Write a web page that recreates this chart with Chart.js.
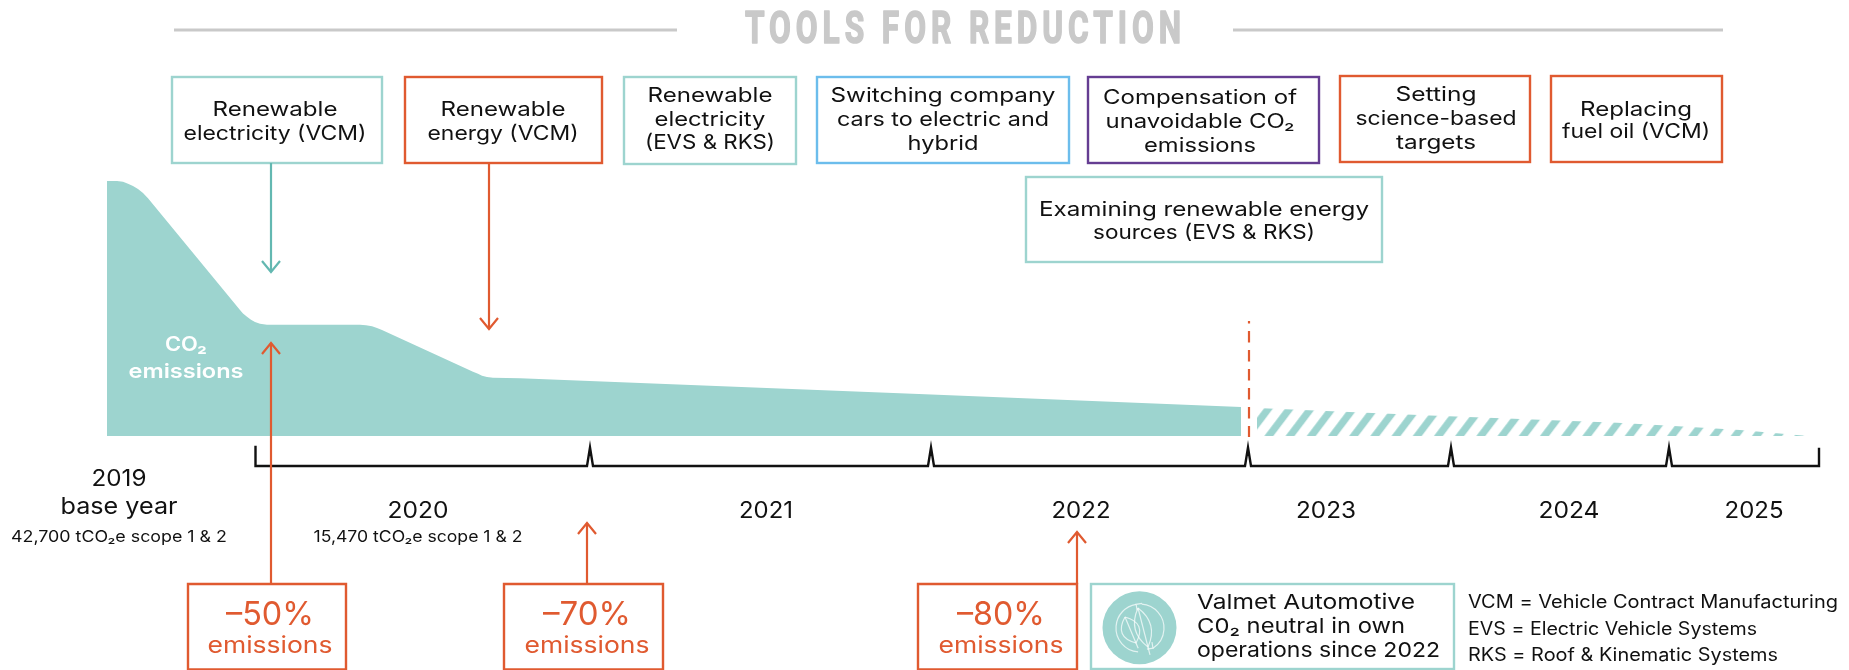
<!DOCTYPE html>
<html><head><meta charset="utf-8">
<style>html,body{margin:0;padding:0;background:#fff}canvas{display:block}</style>
<script src="https://cdn.jsdelivr.net/npm/chart.js@4"></script>
</head><body><canvas id="c" width="1849" height="670"></canvas>
<script>
// ---- data ----
const baseYearEmissions = 42700;
const actualX = [107,117,123,128,133,138,143,148,240,243,247,251,255,260,267,300,340,360,366,372,377,382,473,478,482,487,493,520,925,1241];
const actualY = [42700,42700,42570,42250,41860,41360,40690,39800,21100,20510,19980,19460,19090,18800,18640,18640,18640,18640,18550,18370,18080,17750,10770,10420,10100,9880,9760,9660,6980,4860];
const plannedX = [1257,1430,1617,1670,1740,1808];
const plannedY = [4690,3430,2230,1720,1000,0];
const yearBoundaries = [255.5,590,931,1248,1451,1669,1819];
const yearLabels = ['2020','2021','2022','2023','2024','2025'];
const toolBoxes = [
 ['Renewable','electricity (VCM)'],['Renewable','energy (VCM)'],['Renewable','electricity','(EVS & RKS)'],
 ['Switching company','cars to electric and','hybrid'],['Compensation of','unavoidable CO₂','emissions'],
 ['Setting','science-based','targets'],['Replacing','fuel oil (VCM)'],['Examining renewable energy','sources (EVS & RKS)']];
const targetLabels = ['–50%','–70%','–80%'];
const legendLines = ['VCM = Vehicle Contract Manufacturing','EVS = Electric Vehicle Systems','RKS = Roof & Kinematic Systems'];
const neutralLines = ['Valmet Automotive','C0₂ neutral in own','operations since 2022'];

// ---- layout and style (picture units) ----
const TEAL='#9DD4CF',ORANGE='#E05A30',BLUE='#6CBDEC',PURPLE='#653D92',GREY='#C9C9C9',ARROWTEAL='#63B8B1',INK='#111';
const boxLayout=[
 {r:[172,77,382,163],c:TEAL,cx:275,ys:[110,134],ws:[125,183]},
 {r:[405,77,602,163],c:ORANGE,cx:503,ys:[110,134],ws:[125,151]},
 {r:[624,77,796,164],c:TEAL,cx:710,ys:[96,120,143],ws:[125,111,130]},
 {r:[817,77,1069,163],c:BLUE,cx:943,ys:[96,120,144],ws:[225,212,71]},
 {r:[1088,77,1319,163],c:PURPLE,cx:1200,ys:[98,122,146],ws:[194,189,112]},
 {r:[1340,76,1530,162],c:ORANGE,cx:1436,ys:[95,119,143],ws:[81,161,80]},
 {r:[1551,76,1722,162],c:ORANGE,cx:1636,ys:[110,132],ws:[112,148]},
 {r:[1026,177,1382,262],c:TEAL,cx:1204,ys:[210,233],ws:[330,222]}];
const yearLayout=[[418,61],[766,54],[1081,59],[1326,60],[1569,61],[1754,59]];
const targetLayout=[{r:[188,584,346,670],cx:270,ax:271,tip:343},{r:[504,584,663,670],cx:587,ax:587,tip:523},{r:[918,584,1077,670],cx:1001,ax:1077,tip:532}];
const FONT='Inter, "Noto Sans", sans-serif';
const BASE_PX=436, TOP_PX=181, H=670;
const perPx=baseYearEmissions/(BASE_PX-TOP_PX);

// stripes for the planned period
function stripes(){
  const W=106,T=28,per=21.2,sw=9,t=document.createElement('canvas');t.width=W;t.height=T;
  const g=t.getContext('2d');g.fillStyle=TEAL;
  for(let i=-2;i<7;i++){const b=i*per;g.beginPath();g.moveTo(b,T);g.lineTo(b+sw,T);g.lineTo(b+sw+per,0);g.lineTo(b+per,0);g.closePath();g.fill();}
  const p=g.createPattern(t,'repeat');
  p.setTransform(new DOMMatrix().translate(1264.3,408));
  return p;
}
const zip=(xs,ys)=>xs.map((x,i)=>({x,y:ys[i]}));
const bracket=[];
yearBoundaries.forEach((x,i)=>{
  if(i===0){bracket.push({x,y:447},{x,y:466});}
  else if(i===yearBoundaries.length-1){bracket.push({x,y:466},{x,y:449});}
  else{bracket.push({x:x-3,y:466},{x,y:447.5},{x:x+3,y:466});}
});

const annotations={id:'annotations',afterDatasetsDraw(chart){
  const {ctx,scales}=chart,X=v=>scales.x.getPixelForValue(v),Y=v=>scales.yPage.getPixelForValue(v);
  const text=(s,cx,cy,w,font,color=INK,align='center')=>{
    ctx.save();ctx.font=font;ctx.fillStyle=color;ctx.textBaseline='middle';ctx.textAlign=align;
    const m=ctx.measureText(s).width;
    ctx.translate(X(cx),Y(cy));ctx.scale(w/m,1);ctx.fillText(s,0,0);
    ctx.restore();};
  const line=(x0,y0,x1,y1,c,w=2.2)=>{ctx.beginPath();ctx.moveTo(X(x0),Y(y0));ctx.lineTo(X(x1),Y(y1));ctx.strokeStyle=c;ctx.lineWidth=w;ctx.stroke();};
  const arrow=(x,y0,y1,c)=>{const d=y1>y0?-1:1;line(x,y0,x,y1,c);
    ctx.beginPath();ctx.moveTo(X(x-9),Y(y1+d*11));ctx.lineTo(X(x),Y(y1));ctx.lineTo(X(x+9),Y(y1+d*11));ctx.strokeStyle=c;ctx.lineWidth=2.2;ctx.stroke();};
  const box=(r,c,w=2.4)=>{ctx.strokeStyle=c;ctx.lineWidth=w;ctx.strokeRect(X(r[0]),Y(r[1]),r[2]-r[0],r[3]-r[1]);};

  // title
  line(174,30,677,30,GREY,3);line(1233,30,1723,30,GREY,3);
  ctx.save();ctx.font='bold 45px "Liberation Sans Narrow", Roboto, sans-serif';ctx.letterSpacing='7px';
  const tw=ctx.measureText('TOOLS FOR REDUCTION').width;ctx.fillStyle=GREY;ctx.strokeStyle=GREY;ctx.lineWidth=1.6;ctx.lineJoin='round';ctx.textBaseline='middle';ctx.textAlign='left';
  ctx.translate(X(745),Y(32));ctx.scale(441/tw,1);ctx.fillText('TOOLS FOR REDUCTION',0,0);ctx.strokeText('TOOLS FOR REDUCTION',0,0);ctx.restore();

  // tool boxes
  const f20='400 20px '+FONT;
  boxLayout.forEach((b,i)=>{box(b.r,b.c);toolBoxes[i].forEach((s,j)=>text(s,b.cx,b.ys[j],b.ws[j],f20));});

  // arrows from the boxes
  arrow(271,163,272,ARROWTEAL);arrow(489,163,329,ORANGE);

  // dashed divider
  line(1249,321,1249,323.5,ORANGE);
  ctx.save();ctx.setLineDash([11.5,7.5]);line(1249,331,1249,437,ORANGE);ctx.restore();

  // area label
  const f600='600 20px '+FONT;
  text('CO₂',186,345,42,f600,'#fff');text('emissions',186,372,115,f600,'#fff');

  // years
  text('2019',119,479,55,'400 23px '+FONT);
  text('base year',119,507,117,'400 23px '+FONT);
  text('42,700 tCO₂e scope 1 & 2',119,537,216,'400 16px '+FONT);
  yearLabels.forEach((s,i)=>text(s,yearLayout[i][0],511,yearLayout[i][1],'400 23px '+FONT));
  text('15,470 tCO₂e scope 1 & 2',418,537,209,'400 16px '+FONT);

  // reduction targets
  targetLayout.forEach((b,i)=>{
    ctx.strokeStyle=ORANGE;ctx.lineWidth=2.4;ctx.beginPath();
    ctx.moveTo(X(b.r[0]),Y(671));ctx.lineTo(X(b.r[0]),Y(b.r[1]));ctx.lineTo(X(b.r[2]),Y(b.r[1]));ctx.lineTo(X(b.r[2]),Y(671));ctx.stroke();
    ctx.beginPath();ctx.moveTo(X(b.r[0]),Y(669.5));ctx.lineTo(X(b.r[2]),Y(669.5));ctx.stroke();
    arrow(b.ax,b.r[1],b.tip,ORANGE);
    text(targetLabels[i],b.cx,615,88,'400 33px '+FONT,ORANGE);
    text('emissions',b.cx,646,125,'400 23px '+FONT,ORANGE);
  });

  // neutral box
  ctx.strokeStyle=TEAL;ctx.lineWidth=2.4;ctx.strokeRect(X(1091),Y(584),363,85);
  ctx.fillStyle=TEAL;ctx.beginPath();ctx.ellipse(X(1139.5),Y(627.7),37,36.5,0,0,Math.PI*2);ctx.fill();
  ctx.strokeStyle='rgba(255,255,255,.7)';ctx.lineWidth=1.2;
  const cx=X(1140),cy=Y(628),R=24;
  ctx.beginPath();ctx.arc(cx,cy,R,-1.5,1.0);ctx.stroke();
  ctx.beginPath();ctx.arc(cx,cy,R,1.65,4.55);ctx.stroke();
  [[cx+R*Math.cos(1.0),cy+R*Math.sin(1.0),-1],[cx+R*Math.cos(4.55),cy+R*Math.sin(4.55),1]].forEach(([ax,ay,s])=>{
    ctx.beginPath();ctx.moveTo(ax+s*6,ay+s*-1);ctx.lineTo(ax,ay);ctx.lineTo(ax+s*1,ay+s*6);ctx.stroke();});
  const leaf=(tx,ty,bx,by,b)=>{
    const mx=(tx+bx)/2,my=(ty+by)/2,dx=by-ty,dy=tx-bx,l=Math.hypot(dx,dy),nx=dx/l*b*2,ny=dy/l*b*2;
    ctx.beginPath();ctx.moveTo(cx+tx,cy+ty);ctx.quadraticCurveTo(cx+mx+nx,cy+my+ny,cx+bx,cy+by);
    ctx.quadraticCurveTo(cx+mx-nx,cy+my-ny,cx+tx,cy+ty);ctx.stroke();
    ctx.beginPath();ctx.moveTo(cx+tx,cy+ty);ctx.lineTo(cx+bx+(bx-tx)*.2,cy+by+(by-ty)*.2);ctx.stroke();};
  leaf(-15,-11,-4,15,9);
  leaf(-2,-20,8,19,8);

  neutralLines.forEach((s,i)=>text(s,1197,[603,627,651][i],[218,208,243][i],'400 20.5px '+FONT,INK,'left'));
  legendLines.forEach((s,i)=>text(s,1468,[603,630,656][i],[370,289,310][i],'400 18px '+FONT,INK,'left'));
}};

new Chart(document.getElementById('c'),{
  type:'line',
  data:{datasets:[
    {label:'CO₂ emissions',data:zip(actualX,actualY),yAxisID:'y',fill:'origin',backgroundColor:TEAL,borderWidth:0,pointRadius:0,tension:0},
    {label:'Planned',data:zip(plannedX,plannedY),yAxisID:'y',fill:'origin',backgroundColor:stripes(),borderWidth:0,pointRadius:0,tension:0},
    {label:'Years',data:bracket,yAxisID:'yPage',fill:false,borderColor:'#111',borderWidth:2.4,pointRadius:0,tension:0,borderJoinStyle:'miter',borderCapStyle:'square'}
  ]},
  plugins:[annotations],
  options:{responsive:false,animation:false,events:[],layout:{padding:0},
    plugins:{legend:{display:false},tooltip:{enabled:false},title:{display:false}},
    scales:{
      x:{type:'linear',min:0,max:1849,display:false},
      y:{type:'linear',display:false,min:-(H-BASE_PX)*perPx,max:BASE_PX*perPx},
      yPage:{type:'linear',display:false,min:0,max:H,reverse:true}
    }}
});
</script></body></html>
